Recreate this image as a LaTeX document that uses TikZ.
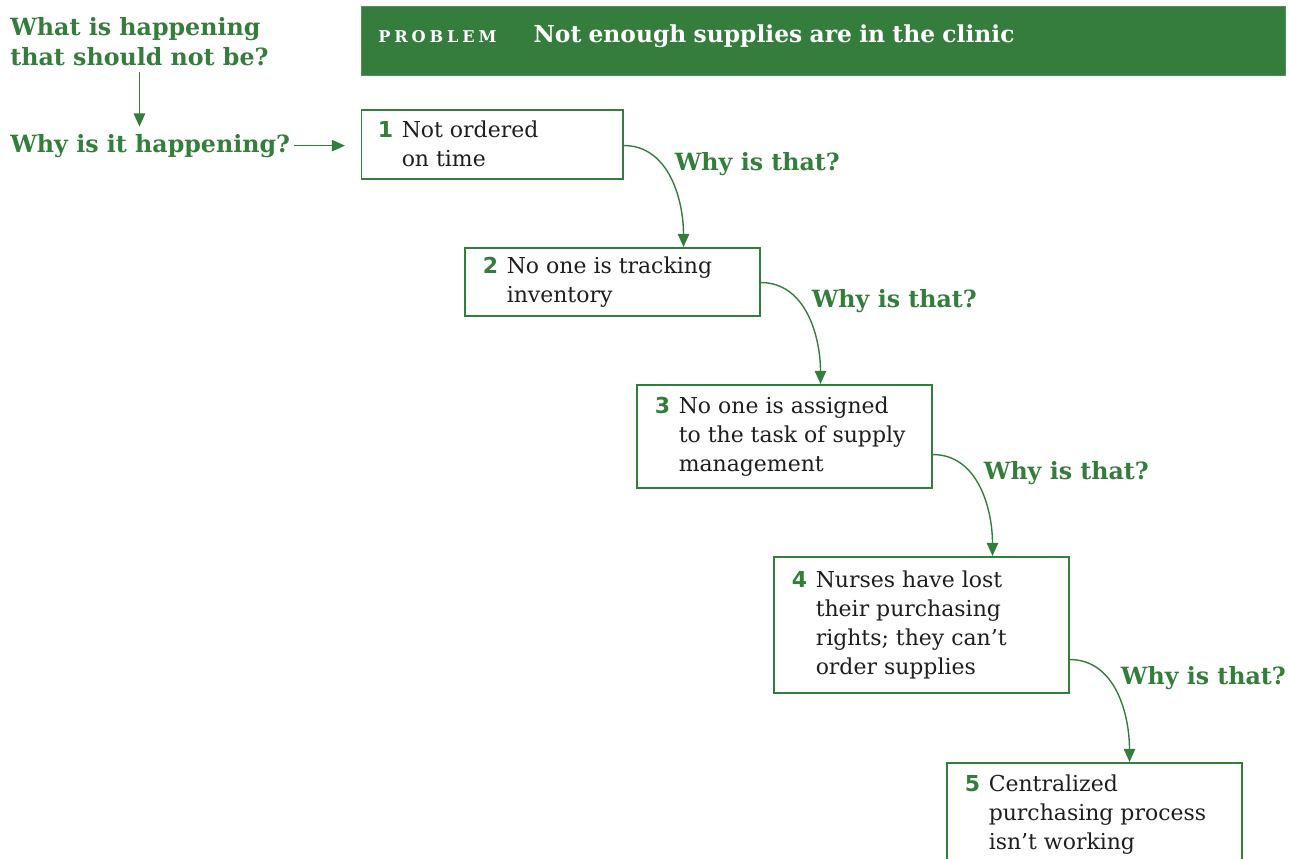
\documentclass[tikz,border=0pt]{standalone}
\usepackage{fontspec}
\setmainfont{DejaVu Serif}
\setsansfont{DejaVu Sans}
\newfontfamily\capsfont[LetterSpace=24]{DejaVu Serif}
\usetikzlibrary{arrows.meta}
\definecolor{why-green}{HTML}{357D3C}
\definecolor{body-text}{HTML}{1E1E1E}

\newcommand{\causetext}[3][4.7cm]{\makebox[0.48cm][l]{\textcolor{why-green}{\sffamily\bfseries #2}}\parbox[t]{#1}{#3}}

\begin{document}
\begin{tikzpicture}[every node/.style={font=\fontsize{12.5}{16.5}\selectfont, text=body-text},
    question/.style={font=\fontsize{13.5}{17}\selectfont\bfseries, text=why-green,
      inner sep=0pt, align=left, anchor=base west},
    cause/.style={draw=why-green, line width=0.85pt, anchor=north west,
      inner xsep=0.32cm, align=left},
    link/.style={draw=why-green, line width=0.8pt, -{Triangle[length=7.5pt,width=6.5pt]}}]
  \useasboundingbox (0,0) rectangle (25.78,-17.16);
  \begin{scope}
    \clip (0,0) rectangle (25.78,-17.16);
    \node[fill=why-green, draw=why-green!85, anchor=north west, text width=17.8cm,
      inner xsep=0.34cm, inner ysep=0pt, text height=0.72cm, text depth=0.66cm,
      align=left, text=white] (problem) at (7.22,-0.12)
      {{\capsfont\bfseries\fontsize{9.2}{10}\selectfont PROBLEM}\hspace{0.74cm}{\fontsize{13.3}{17}\selectfont\bfseries Not enough supplies are in the clinic}};
    \node[question] (q1) at (0.2,-1.30) {What is happening\\that should not be?};
    \node[question] (q2) at (0.2,-3.04) {Why is it happening?};
    \node[cause, minimum width=5.22cm, minimum height=1.38cm] (b1) at (7.22,-2.18)
      {\causetext[4.1cm]{1}{Not ordered\\on time}};
    \node[cause, minimum width=5.9cm, minimum height=1.36cm] (b2) at (9.28,-4.94)
      {\causetext{2}{No one is tracking\\inventory}};
    \node[cause, minimum width=5.9cm, minimum height=2.06cm] (b3) at (12.72,-7.68)
      {\causetext{3}{No one is assigned\\to the task of supply\\management}};
    \node[cause, minimum width=5.9cm, minimum height=2.72cm] (b4) at (15.46,-11.12)
      {\causetext{4}{Nurses have lost\\their purchasing\\rights; they can’t\\order supplies}};
    \node[cause, minimum width=5.9cm, minimum height=2.06cm] (b5) at (18.92,-15.24)
      {\causetext{5}{Centralized\\purchasing process\\isn’t working}};
    % question arrows
    \draw[link, shorten <=0.12cm, shorten >=0.14cm] (q1.south) -- (q1.south |- q2.north);
    \draw[link, shorten <=0.08cm, shorten >=0.32cm] (q2.east) -- (q2.east -| b1.west);
    % why is that?
    \foreach \a/\b in {b1/b2, b2/b3, b3/b4, b4/b5} {
      \coordinate (\a-out) at ([yshift=0.68cm]\a.south east);
      \path (\a-out) ++(1.2,0) coordinate (\a-x);
      \draw[link] (\a-out) to[out=0, in=90] (\a-x |- \b.north);
      \node[question] (\a-why) at ([xshift=1.02cm, yshift=-0.5cm]\a-out) {Why is that?};
    }
  \end{scope}
\end{tikzpicture}
\end{document}
